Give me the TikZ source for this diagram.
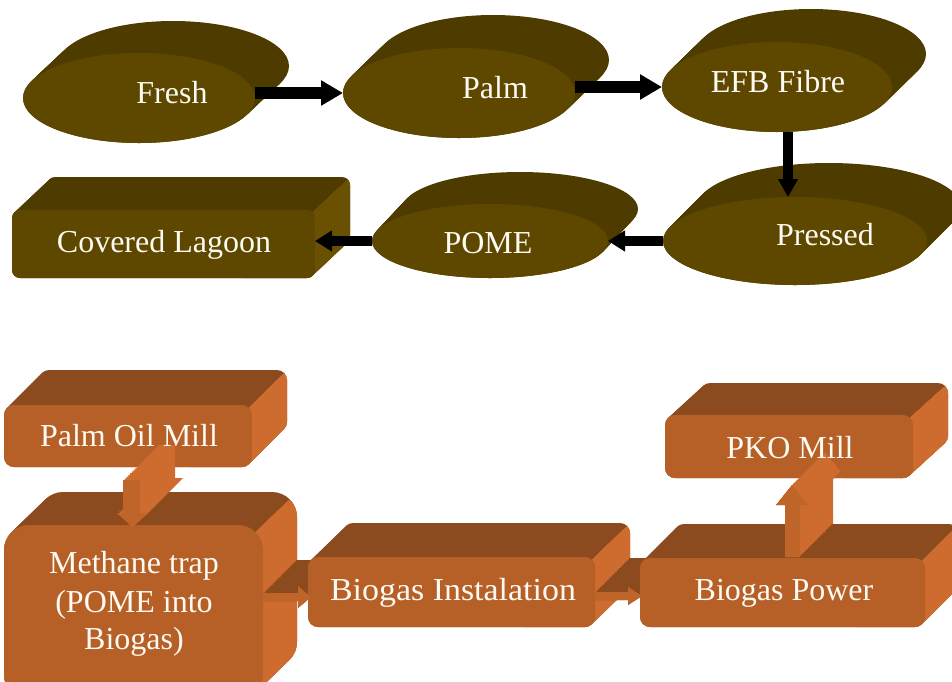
\documentclass[tikz,border=0pt]{standalone}
\usepackage{fontspec}
\setmainfont{Liberation Serif}
\usetikzlibrary{arrows.meta,shapes.geometric}
\definecolor{ofront}{RGB}{94,72,0}
\definecolor{otop}{RGB}{78,59,0}
\definecolor{oside}{RGB}{106,81,2}
\definecolor{bfront}{RGB}{182,96,40}
\definecolor{btop}{RGB}{140,75,30}
\definecolor{bside}{RGB}{205,108,46}
\definecolor{barr}{RGB}{192,101,42}
\definecolor{txt}{RGB}{252,250,242}
\tikzset{
  lbl/.style={text=txt, font=\fontsize{32}{38}\selectfont, anchor=base, inner sep=0pt},
  blk/.style={black, line width=12pt, -{Triangle[length=22pt,width=24pt]}},
  blkv/.style={black, line width=10pt, -{Triangle[length=18pt,width=19pt]}},
  blk2/.style={black, line width=10pt, -{Triangle[length=17pt,width=20pt]}}
}
% disc: name cx cy rx ry dx dy
\newcommand{\disc}[7]{%
  \foreach \t in {0,0.04,...,1.001}{\fill[otop] ({#2+\t*(#6)},{#3+\t*(#7)}) ellipse [x radius=#4, y radius=#5];}
  \begin{scope}
    \pgfmathsetmacro\ctx{#2+((#4)/veclen(#4,#5))*(#4)}
    \pgfmathsetmacro\cty{#3+((#5)/veclen(#4,#5))*(#5)}
    \clip ({\ctx+4*(#6)},{\cty+4*(#7)}) -- ({\ctx-4*(#6)},{\cty-4*(#7)}) -- ({\ctx-4*(#6)+300},{\cty-4*(#7)+300}) -- ({\ctx+4*(#6)+300},{\cty+4*(#7)+300}) -- cycle;
    \foreach \t in {0,0.04,...,1.001}{\fill[oside] ({#2+\t*(#6)},{#3+\t*(#7)}) ellipse [x radius=#4, y radius=#5];}
  \end{scope}
  \node[ellipse, fill=ofront, inner sep=0pt, outer sep=0pt, minimum width={2*#4*1pt}, minimum height={2*#5*1pt}] (#1) at (#2,#3) {};
}
% cuboid: name x1 y1 x2 y2 dx dy r palette
\newcommand{\cuboid}[9]{%
  \foreach \t in {0,0.05,...,1.001}{\fill[#9top, rounded corners=#8pt] ({#2+\t*(#6)},{#3+\t*(#7)}) rectangle ({#4+\t*(#6)},{#5+\t*(#7)});}
  \begin{scope}
    \pgfmathsetmacro\cqx{#4-#8+#8*0.7071}
    \pgfmathsetmacro\cqy{#3+#8-#8*0.7071}
    \clip ({\cqx+4*(#6)},{\cqy+4*(#7)}) -- ({\cqx-4*(#6)},{\cqy-4*(#7)}) -- ({\cqx-4*(#6)+300},{\cqy-4*(#7)+300}) -- ({\cqx+4*(#6)+300},{\cqy+4*(#7)+300}) -- cycle;
    \foreach \t in {0,0.05,...,1.001}{\fill[#9side, rounded corners=#8pt] ({#2+\t*(#6)},{#3+\t*(#7)}) rectangle ({#4+\t*(#6)},{#5+\t*(#7)});}
  \end{scope}
  \node[rectangle, rounded corners=#8pt, fill=#9front, inner sep=0pt, outer sep=0pt, minimum width={(#4-#2)*1pt}, minimum height={(#5-#3)*1pt}] (#1) at ({(#2+#4)/2},{(#3+#5)/2}) {};
}
\begin{document}
\begin{tikzpicture}[x=1pt,y=-1pt]
\useasboundingbox (0,0) rectangle (952,681);
% ---------- top part ----------
\disc{fresh}{139}{98}{116}{45}{34}{-32}
\disc{palm}{459}{93}{116}{45}{34}{-33}
\disc{efb}{777}{87}{115}{45}{34}{-33}
\disc{pressed}{795}{241}{132}{44}{34}{-34}
\disc{pome}{490}{241}{118}{37}{30}{-32}
\cuboid{lagoon}{12}{210}{315}{278}{35}{-33}{8}{o}

\draw[blk] (fresh.east |- palm.west) -- (palm.west);
\draw[blk] (palm.east |- efb.west) -- (efb.west);
\draw[blkv] ([xshift=11pt]efb.south) -- ([xshift=11pt]efb.south |- pressed.north);
\draw[blk2] (pressed.west) -- (pome.east);
\draw[blk2] (pome.west) -- (pome.west -| lagoon.east);

\node[lbl] (tfresh) at (172,103) {Fresh};
\node[lbl] (tpalm) at (495,98) {Palm};
\node[lbl] (tefb) at (778,92) {EFB Fibre};
\node[lbl] (tpressed) at (825,245) {Pressed};
\node[lbl] (tpome) at (488,253) {POME};
\node[lbl] (tlagoon) at (164,252) {Covered Lagoon};

% ---------- bottom part ----------
\cuboid{pom}{4}{405}{252}{467}{35}{-35}{10}{b}
\cuboid{methane}{4}{525}{263}{700}{34}{-33}{25}{b}
\foreach \t in {0,0.05,...,1.001}
  \fill[btop, shift={({\t*33},{-\t*33})}] (263,593) -- (298,593) -- (298,586) -- (311,597) -- (298,608) -- (298,601) -- (263,601) -- cycle;
\cuboid{biginst}{308}{557}{595}{627}{35}{-34}{10}{b}
\foreach \t in {0,0.05,...,1.001}
  \fill[btop, shift={({\t*34},{-\t*34})}] (595,592) -- (628,592) -- (628,587) -- (642,596) -- (628,605) -- (628,600) -- (595,600) -- cycle;
\cuboid{bigpow}{640}{558}{925}{627}{34}{-34}{10}{b}
\cuboid{pko}{665}{415}{913}{478}{35}{-32}{10}{b}

\fill[barr] (263,593) -- (298,593) -- (298,586) -- (311,597) -- (298,608) -- (298,601) -- (263,601) -- cycle;
\fill[barr] (595,592) -- (628,592) -- (628,587) -- (642,596) -- (628,605) -- (628,600) -- (595,600) -- cycle;

\foreach \t in {0,0.05,...,1.001}
  \fill[bside, shift={({\t*35},{-\t*35})}] (123,480) -- (140,480) -- (140,513) -- (148,513) -- (132.5,527) -- (117,513) -- (123,513) -- cycle;
\fill[barr] (123,480) -- (140,480) -- (140,513) -- (148,513) -- (132.5,527) -- (117,513) -- (123,513) -- cycle;

\foreach \t in {0,0.05,...,1.001}
  \fill[bside, shift={({\t*33},{-\t*33})}] (785,557) -- (785,505) -- (776,505) -- (792,485) -- (808,505) -- (800,505) -- (800,557) -- cycle;
\fill[barr] (785,557) -- (785,505) -- (776,505) -- (792,485) -- (808,505) -- (800,505) -- (800,557) -- cycle;

\node[lbl] (tpom) at (129,446) {Palm Oil Mill};
\node[lbl] (tmeth1) at (134,573) {Methane trap};
\node[lbl] (tmeth2) at (134,612) {(POME into};
\node[lbl] (tmeth3) at (134,649) {Biogas)};
\node[lbl] (tbiginst) at (453,600) {\scalebox{1.06}[1]{Biogas Instalation}};
\node[lbl] (tbigpow) at (784,600) {Biogas Power};
\node[lbl] (tpko) at (790,458) {PKO Mill};
\end{tikzpicture}
\end{document}
